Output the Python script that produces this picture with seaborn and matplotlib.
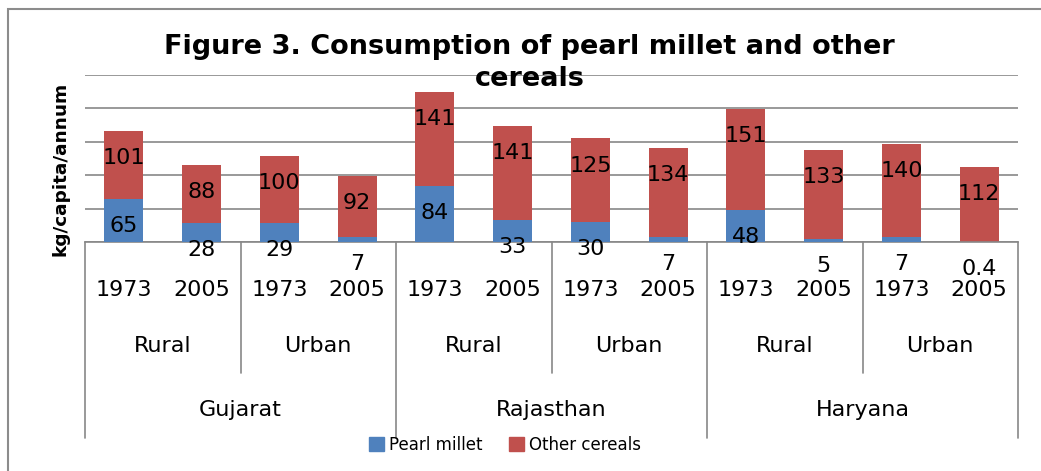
import numpy as np
import pandas as pd
import matplotlib
matplotlib.use("Agg")
import matplotlib.pyplot as plt
import matplotlib.transforms as mtransforms
from matplotlib.patches import Patch, Rectangle
import seaborn as sns

# data
states = ["Gujarat", "Rajasthan", "Haryana"]
areas = ["Rural", "Urban"]
years = ["1973", "2005"]
pearl_millet = [65, 28, 29, 7, 84, 33, 30, 7, 48, 5, 7, 0.4]
other_cereals = [101, 88, 100, 92, 141, 141, 125, 134, 151, 133, 140, 112]

rows = []
k = 0
for s in states:
    for a in areas:
        for y in years:
            rows.append({"state": s, "area": a, "year": y,
                         "key": f"{s} {a} {y}",
                         "pearl": pearl_millet[k], "other": other_cereals[k]})
            k += 1
df = pd.DataFrame(rows)
df["total"] = df["pearl"] + df["other"]

BLUE = "#4F81BD"
RED = "#C0504D"
GRID = "#878787"

sns.set_style("white")
plt.rcParams["font.family"] = ["DejaVu Sans"]
plt.rcParams["text.color"] = "black"
plt.rcParams["xtick.color"] = "black"

fig = plt.figure(figsize=(10.41, 4.71), dpi=100)
ax = fig.add_axes([85 / 1041, 1 - 242 / 471, (1018 - 85) / 1041, (242 - 75) / 471])

# stacked bars: total first (red) then pearl millet on top of it (blue)
sns.barplot(data=df, x="key", y="total", color=RED, saturation=1, width=0.5,
            errorbar=None, ax=ax, zorder=2, linewidth=0)
sns.barplot(data=df, x="key", y="pearl", color=BLUE, saturation=1, width=0.5,
            errorbar=None, ax=ax, zorder=3, linewidth=0)

ax.set_ylim(0, 250)
ax.set_xlim(-0.5, len(df) - 0.5)
ax.set_yticks(np.arange(0, 251, 50))
ax.set_yticklabels([])
ax.tick_params(axis="y", length=0)
ax.yaxis.grid(True, color=GRID, lw=1.2)
ax.set_axisbelow(True)
for sp in ["left", "right", "top"]:
    ax.spines[sp].set_visible(False)
ax.spines["bottom"].set_color(GRID)
ax.spines["bottom"].set_linewidth(1.2)
ax.set_xlabel("")
ax.set_ylabel("")

# data labels sit a fixed distance below each segment top
for i, r in df.iterrows():
    for top, val in [(r["total"], r["other"]), (r["pearl"], r["pearl"])]:
        txt = f"{val:g}"
        ax.annotate(txt, (i, top), xytext=(0, -19.5), textcoords="offset points",
                    ha="center", va="center", fontsize=16, zorder=5,
                    annotation_clip=False)

# multi-level category axis
ax.set_xticks(range(len(df)))
ax.set_xticklabels(df["year"], fontsize=16)
ax.tick_params(axis="x", length=0, pad=27)

trans = mtransforms.blended_transform_factory(ax.transData, ax.transAxes)
n = len(df)
for a_start in range(0, n, 2):
    ax.text(a_start + 0.5, -0.623, df["area"][a_start], transform=trans,
            ha="center", va="center", fontsize=16)
for s_start in range(0, n, 4):
    ax.text(s_start + 1.5, -1.006, df["state"][s_start], transform=trans,
            ha="center", va="center", fontsize=16)

for b in range(n + 1):
    x = b - 0.5
    if b % 4 == 0:
        y0 = -1.174
    elif b % 2 == 0:
        y0 = -0.784
    else:
        continue
    ax.plot([x, x], [0, y0], transform=trans, color=GRID, lw=1.2, clip_on=False)

# title and y label
fig.text(0.509, 0.867, "Figure 3. Consumption of pearl millet and other\ncereals",
         ha="center", va="center", fontsize=19.5, fontweight="bold", linespacing=1.3)
fig.text(0.058, 0.641, "kg/capita/annum", rotation=90, ha="center", va="center",
         fontsize=13.3, fontweight="bold")

handles = [Patch(color=BLUE), Patch(color=RED)]
fig.legend(handles, ["Pearl millet", "Other cereals"], loc="center",
           bbox_to_anchor=(0.485, 0.055), ncol=2, frameon=False, fontsize=12,
           handlelength=0.9, handleheight=0.9, handletextpad=0.3, columnspacing=1.6)

# outer chart border
fig.add_artist(Rectangle((8 / 1041, -0.1), 1.2, 1 - 9 / 471 + 0.1,
                         transform=fig.transFigure, fill=False,
                         edgecolor="#8c8c8c", lw=1.5))

fig.savefig("out.png", dpi=100)
